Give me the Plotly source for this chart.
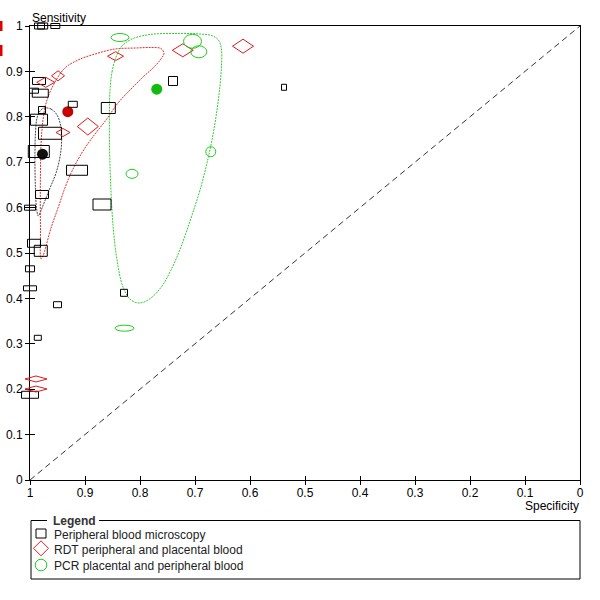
import plotly.graph_objects as go

# ---------------- data ----------------
# Peripheral blood microscopy: specificity, sensitivity, box sizes (px, ~sample sizes)
micro_spec = [0.9827, 0.9769, 0.954, 0.9836, 0.9927, 0.9813, 0.9222, 0.9782, 0.9836, 0.9636,
              0.984, 0.9145, 0.9782, 1.0, 0.8691, 0.9927, 0.9804, 1.0, 1.0, 0.95,
              0.9858, 1.0, 0.8576, 0.74, 0.5382, 0.8291]
micro_sens = [1.0, 1.0, 1.0, 0.8789, 0.8575, 0.852, 0.8275, 0.815, 0.7936, 0.7637,
              0.7236, 0.6822, 0.6289, 0.5998, 0.6068, 0.5214, 0.5048, 0.4652, 0.4222, 0.3861,
              0.3132, 0.1877, 0.8194, 0.8789, 0.865, 0.4123]
micro_w = [10, 10, 9, 13, 9, 16, 9, 7, 17, 23, 21, 21, 13, 11, 18, 13, 13, 9, 13, 8, 7, 17, 14, 9, 5, 7]
micro_h = [6, 6, 5, 7, 5, 8, 6, 7, 11, 12, 12, 10, 8, 5, 11, 8, 11, 6, 5, 6, 5, 7, 11, 9, 6, 7]

# RDT peripheral and placental blood
rdt_spec = [0.9713, 0.9491, 0.8949, 0.94, 0.8445, 0.7222, 0.6127, 0.9891, 0.9891]
rdt_sens = [0.876, 0.8903, 0.7786, 0.7654, 0.9335, 0.9465, 0.9555, 0.2225, 0.2004]
rdt_w = [18, 13, 21, 14, 16, 21, 21, 22, 22]
rdt_h = [10, 10, 17, 8, 9, 13, 14, 6, 6]

# PCR placental and peripheral blood
pcr_spec = [0.8364, 0.7045, 0.6931, 0.6713, 0.8145, 0.8282]
pcr_sens = [0.9747, 0.9663, 0.9432, 0.7231, 0.6744, 0.3344]
pcr_w = [18, 18, 16, 10, 12, 19]
pcr_h = [8, 14, 12, 10, 9, 6]

# summary points
sum_names = ["Peripheral blood microscopy", "RDT peripheral and placental blood",
             "PCR placental and peripheral blood"]
sum_spec = [0.9773, 0.9313, 0.7696]
sum_sens = [0.7176, 0.8112, 0.8608]

# confidence regions
micro_ci_spec = [0.9745, 0.9618, 0.9509, 0.9445, 0.9424, 0.9455, 0.9527, 0.9636, 0.9745, 0.9818,
                 0.9849, 0.9882, 0.99, 0.9909, 0.9909, 0.99, 0.9873, 0.9818, 0.9745]
micro_ci_sens = [0.8194, 0.8172, 0.8040, 0.7819, 0.7489, 0.7115, 0.6762, 0.6432, 0.6101, 0.5881,
                 0.5815, 0.5991, 0.6388, 0.6828, 0.7269, 0.7665, 0.7974, 0.8128, 0.8194]

rdt_ci_spec = [0.98, 0.9809, 0.9813, 0.9809, 0.98, 0.9764, 0.9691, 0.9545, 0.9364, 0.9127,
               0.8818, 0.8455, 0.8091, 0.7782, 0.7618, 0.7564, 0.7618, 0.7764, 0.7945, 0.8182,
               0.84, 0.8618, 0.8818, 0.9, 0.9182, 0.9345, 0.9491, 0.9618, 0.9709, 0.9764, 0.98]
rdt_ci_sens = [0.4868, 0.5507, 0.6167, 0.6828, 0.7379, 0.7930, 0.8370, 0.8767, 0.9075, 0.9251,
               0.9383, 0.9493, 0.9515, 0.9526, 0.9504, 0.9405, 0.9273, 0.9075, 0.8877, 0.8590,
               0.8304, 0.7930, 0.7621, 0.7313, 0.6938, 0.6498, 0.5991, 0.5551, 0.5154, 0.4934, 0.4868]

pcr_ci_spec = [0.8545, 0.8509, 0.8436, 0.8327, 0.8145, 0.7818, 0.7364, 0.6909, 0.6673, 0.6564,
               0.6518, 0.6518, 0.6545, 0.66, 0.6691, 0.6791, 0.6909, 0.7036, 0.7164, 0.7291,
               0.7436, 0.76, 0.78, 0.80, 0.8164, 0.8309, 0.8418, 0.8491, 0.8536, 0.8555, 0.8555, 0.8545]
pcr_ci_sens = [0.8590, 0.8987, 0.9317, 0.9559, 0.9714, 0.9813, 0.9835, 0.9824, 0.9780, 0.9670,
               0.9471, 0.9141, 0.8700, 0.8150, 0.7489, 0.6938, 0.6388, 0.5903, 0.5441, 0.5022,
               0.4626, 0.4273, 0.4009, 0.3899, 0.3965, 0.4251, 0.4846, 0.5617, 0.6608, 0.7489, 0.8150, 0.8590]

tick_vals = [1, 0.9, 0.8, 0.7, 0.6, 0.5, 0.4, 0.3, 0.2, 0.1, 0]
tick_text = ["1", "0.9", "0.8", "0.7", "0.6", "0.5", "0.4", "0.3", "0.2", "0.1", "0"]

# ---------------- layout constants (pixels) ----------------
W, H = 600, 600
L, R, T, B = 30, 580, 26, 480
SX = R - L          # px per unit specificity
SY = B - T          # px per unit sensitivity
FONT = "Liberation Sans, Arial, sans-serif"

RED = "#dd1c1c"
GREEN = "#1ecc1e"

fig = go.Figure()

# diagonal reference line on the main axes
fig.add_trace(go.Scatter(x=[1, 0], y=[0, 1], mode="lines", xaxis="x", yaxis="y",
                         line=dict(color="#333333", width=1, dash="6px,4px"),
                         hoverinfo="skip", showlegend=False))

# confidence regions on the overlay axes
for xs, ys, col in [(micro_ci_spec, micro_ci_sens, "#444444"),
                    (rdt_ci_spec, rdt_ci_sens, "#e03030"),
                    (pcr_ci_spec, pcr_ci_sens, "#33cc33")]:
    fig.add_trace(go.Scatter(x=xs, y=ys, mode="lines", xaxis="x2", yaxis="y2",
                             line=dict(color=col, width=1, dash="2px,1px", shape="spline",
                                       smoothing=1.0),
                             hoverinfo="skip", showlegend=False))

# summary points
for i, col in enumerate(["#111111", "#c80000", "#11bb11"]):
    fig.add_trace(go.Scatter(x=[sum_spec[i]], y=[sum_sens[i]], mode="markers",
                             xaxis="x2", yaxis="y2", name=sum_names[i], cliponaxis=False,
                             marker=dict(size=11, color=col, line=dict(width=0)),
                             showlegend=False))

# invisible trace for overlay tick axes
fig.add_trace(go.Scatter(x=[None], y=[None], xaxis="x3", yaxis="y3", showlegend=False))

shapes = []
# study markers
for s, e, w, h in zip(micro_spec, micro_sens, micro_w, micro_h):
    hw, hh = w / 2 / SX, h / 2 / SY
    shapes.append(dict(type="rect", xref="x2", yref="y2", x0=s + hw, x1=s - hw,
                       y0=e - hh, y1=e + hh, line=dict(color="black", width=1),
                       fillcolor="rgba(0,0,0,0)"))
for s, e, w, h in zip(rdt_spec, rdt_sens, rdt_w, rdt_h):
    hw, hh = w / 2 / SX, h / 2 / SY
    shapes.append(dict(type="path", xref="x2", yref="y2",
                       path=f"M {s + hw},{e} L {s},{e + hh} L {s - hw},{e} L {s},{e - hh} Z",
                       line=dict(color=RED, width=1), fillcolor="rgba(0,0,0,0)"))
for s, e, w, h in zip(pcr_spec, pcr_sens, pcr_w, pcr_h):
    hw, hh = w / 2 / SX, h / 2 / SY
    shapes.append(dict(type="circle", xref="x2", yref="y2", x0=s + hw, x1=s - hw,
                       y0=e - hh, y1=e + hh, line=dict(color=GREEN, width=1),
                       fillcolor="rgba(0,0,0,0)"))


def px(x):
    return x / W


def py(y):
    return 1 - y / H


def pline(x0, y0, x1, y1, col="black"):
    return dict(type="line", xref="paper", yref="paper", x0=px(x0), y0=py(y0),
                x1=px(x1), y1=py(y1), line=dict(color=col, width=1))


# legend box with a gap for the title
LG_T, LG_B, LG_L, LG_R = 520.5, 579, 31, 580
shapes += [pline(LG_L, LG_T, 47, LG_T), pline(99, LG_T, LG_R, LG_T),
           pline(LG_L, LG_T, LG_L, LG_B), pline(LG_L, LG_B, LG_R, LG_B),
           pline(LG_R, LG_T, LG_R, LG_B)]
# legend symbols
shapes.append(dict(type="rect", xref="paper", yref="paper", x0=px(36), x1=px(46),
                   y0=py(538), y1=py(529), line=dict(color="black", width=1)))
shapes.append(dict(type="path", xref="paper", yref="paper",
                   path=f"M {px(33.5)},{py(548.3)} L {px(41)},{py(540.8)} L {px(48.5)},{py(548.3)} "
                        f"L {px(41)},{py(555.8)} Z",
                   line=dict(color=RED, width=1)))
shapes.append(dict(type="circle", xref="paper", yref="paper", x0=px(35.2), x1=px(46.8),
                   y0=py(570.8), y1=py(559.2), line=dict(color=GREEN, width=1)))
# cropped red marks at the very left edge
shapes.append(dict(type="rect", xref="paper", yref="paper", x0=px(0), x1=px(2.5),
                   y0=py(31), y1=py(21), line=dict(width=0), fillcolor="#e00000"))
shapes.append(dict(type="rect", xref="paper", yref="paper", x0=px(0), x1=px(2.5),
                   y0=py(56), y1=py(45), line=dict(width=0), fillcolor="#e00000"))

annotations = [
    dict(text="Sensitivity", xref="paper", yref="paper", x=px(30), y=py(18),
         xanchor="left", yanchor="middle", showarrow=False,
         font=dict(family=FONT, size=12, color="black")),
    dict(text="Specificity", xref="paper", yref="paper", x=px(581), y=py(506),
         xanchor="right", yanchor="middle", showarrow=False,
         font=dict(family=FONT, size=12, color="black")),
    dict(text="<b>Legend</b>", xref="paper", yref="paper", x=px(50.5), y=py(520.5),
         xanchor="left", yanchor="middle", showarrow=False,
         font=dict(family=FONT, size=12, color="#333333")),
]
for i, yy in enumerate([534.5, 550, 565.5]):
    annotations.append(dict(text=sum_names[i], xref="paper", yref="paper", x=px(51.5),
                            y=py(yy), xanchor="left", yanchor="middle", showarrow=False,
                            font=dict(family=FONT, size=12, color="#222222")))

axis_common = dict(showgrid=False, zeroline=False, tickvals=tick_vals, ticktext=tick_text,
                   automargin=False, tickfont=dict(family=FONT, size=12, color="black"))

fig.update_layout(
    width=W, height=H,
    margin=dict(l=0, r=0, t=0, b=0, pad=0, autoexpand=False),
    paper_bgcolor="white", plot_bgcolor="rgba(0,0,0,0)",
    showlegend=False,
    xaxis=dict(domain=[L / W, R / W], range=[1, 0], anchor="y", ticks="outside", ticklen=4,
               showline=True, linecolor="black", linewidth=1, mirror=True,
               tickcolor="black", ticklabelstandoff=-2, **axis_common),
    yaxis=dict(domain=[1 - B / H, 1 - T / H], range=[0, 1], anchor="x", ticks="outside",
               ticklen=4, showline=True, linecolor="black", linewidth=1, mirror=True,
               tickcolor="black", **axis_common),
    xaxis3=dict(overlaying="x", range=[1, 0], anchor="y", ticks="inside", ticklen=4,
                tickcolor="black", showticklabels=False, showline=False, showgrid=False,
                zeroline=False, tickvals=tick_vals, automargin=False),
    yaxis3=dict(overlaying="y", range=[0, 1], anchor="x", ticks="inside", ticklen=5,
                tickcolor="black", showticklabels=False, showline=False, showgrid=False,
                zeroline=False, tickvals=tick_vals, automargin=False),
    xaxis2=dict(domain=[0, 1], anchor="y2", range=[1 + L / SX, 1 - (W - L) / SX],
                visible=False, showgrid=False, zeroline=False, automargin=False),
    yaxis2=dict(domain=[0, 1], anchor="x2", range=[-(H - B) / SY, B / SY],
                visible=False, showgrid=False, zeroline=False, automargin=False),
    shapes=shapes,
    annotations=annotations,
)

fig.write_html("out.html", config={"displayModeBar": False},
               post_script="document.body.style.margin='0';document.body.style.overflow='hidden';")
